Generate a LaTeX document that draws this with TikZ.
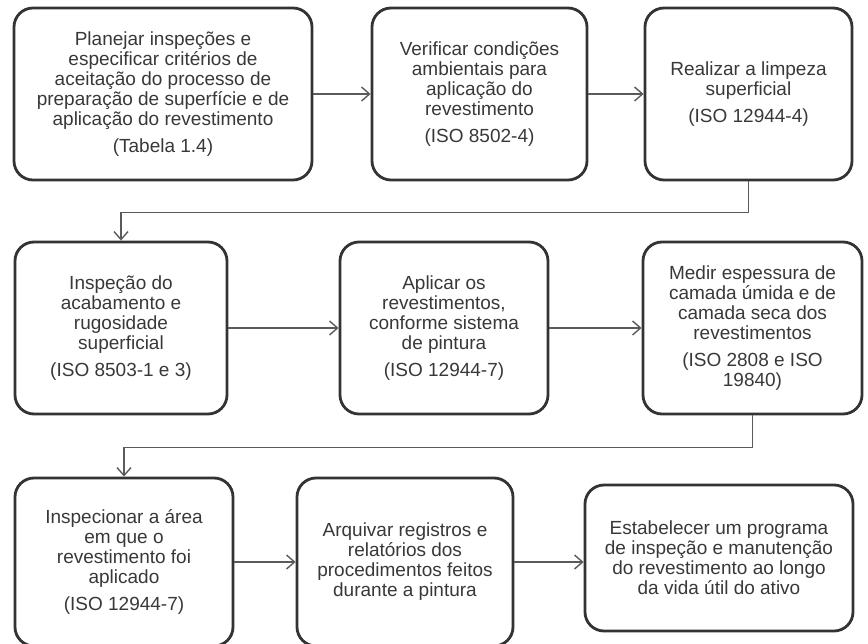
\documentclass[tikz,border=0pt]{standalone}
\usepackage{fontspec}
\setmainfont{Liberation Sans}
\usetikzlibrary{arrows.meta}
\definecolor{boxline}{HTML}{333333}
\definecolor{boxtext}{HTML}{383838}
\definecolor{flowline}{HTML}{5A5A5A}
\tikzset{
  stage/.style={draw=boxline, line width=2.8pt, rounded corners=19pt, align=center,
    text=boxtext, font=\fontsize{19}{20}\selectfont, inner sep=0pt},
  flow/.style={draw=flowline, line width=1.4pt, -{Straight Barb[length=8pt,width=14pt]}}
}
\begin{document}
\begin{tikzpicture}[x=1pt,y=-1pt]
          \useasboundingbox (0,0) rectangle (868,644);
          \node[stage, minimum width=298pt, minimum height=172pt] (plan) at (163,94) {Planejar inspeções e\\especificar critérios de\\aceitação do processo de\\preparação de superfície e de\\aplicação do revestimento\\[7pt](Tabela 1.4)};
          \node[stage, minimum width=215pt, minimum height=172pt] (amb) at (479.5,94) {Verificar condições\\ambientais para\\aplicação do\\revestimento\\[7pt](ISO 8502-4)};
          \node[stage, minimum width=207pt, minimum height=172pt] (limp) at (748.5,94) {Realizar a limpeza\\superficial\\[7pt](ISO 12944-4)};
          \node[stage, minimum width=212pt, minimum height=172pt] (rug) at (121,328) {Inspeção do\\acabamento e\\rugosidade\\superficial\\[7pt](ISO 8503-1 e 3)};
          \node[stage, minimum width=208pt, minimum height=172pt] (apl) at (444,328) {Aplicar os\\revestimentos,\\conforme sistema\\de pintura\\[7pt](ISO 12944-7)};
          \node[stage, minimum width=219pt, minimum height=172pt] (esp) at (752.5,328) {Medir espessura de\\camada úmida e de\\camada seca dos\\revestimentos\\[7pt](ISO 2808 e ISO\\19840)};
          \node[stage, minimum width=218pt, minimum height=168pt] (area) at (124,562) {Inspecionar a área\\em que o\\revestimento foi\\aplicado\\[7pt](ISO 12944-7)};
          \node[stage, minimum width=216pt, minimum height=168pt] (arq) at (405,562) {Arquivar registros e\\relatórios dos\\procedimentos feitos\\durante a pintura};
          \node[stage, minimum width=268pt, minimum height=146pt] (prog) at (719,558) {Estabelecer um programa\\de inspeção e manutenção\\do revestimento ao longo\\da vida útil do ativo};
          \draw[flow] (plan) -- (amb);
          \draw[flow] (amb) -- (limp);
          \draw[flow] (limp.south) -- ++(0,31) -| (rug.north);
          \draw[flow] (rug) -- (apl);
          \draw[flow] (apl) -- (esp);
          \draw[flow] (esp.south) -- ++(0,32) -| (area.north);
          \draw[flow] (area) -- (arq);
          \draw[flow] (arq.east) -- (arq.east -| prog.west);
        \end{tikzpicture}
\end{document}
